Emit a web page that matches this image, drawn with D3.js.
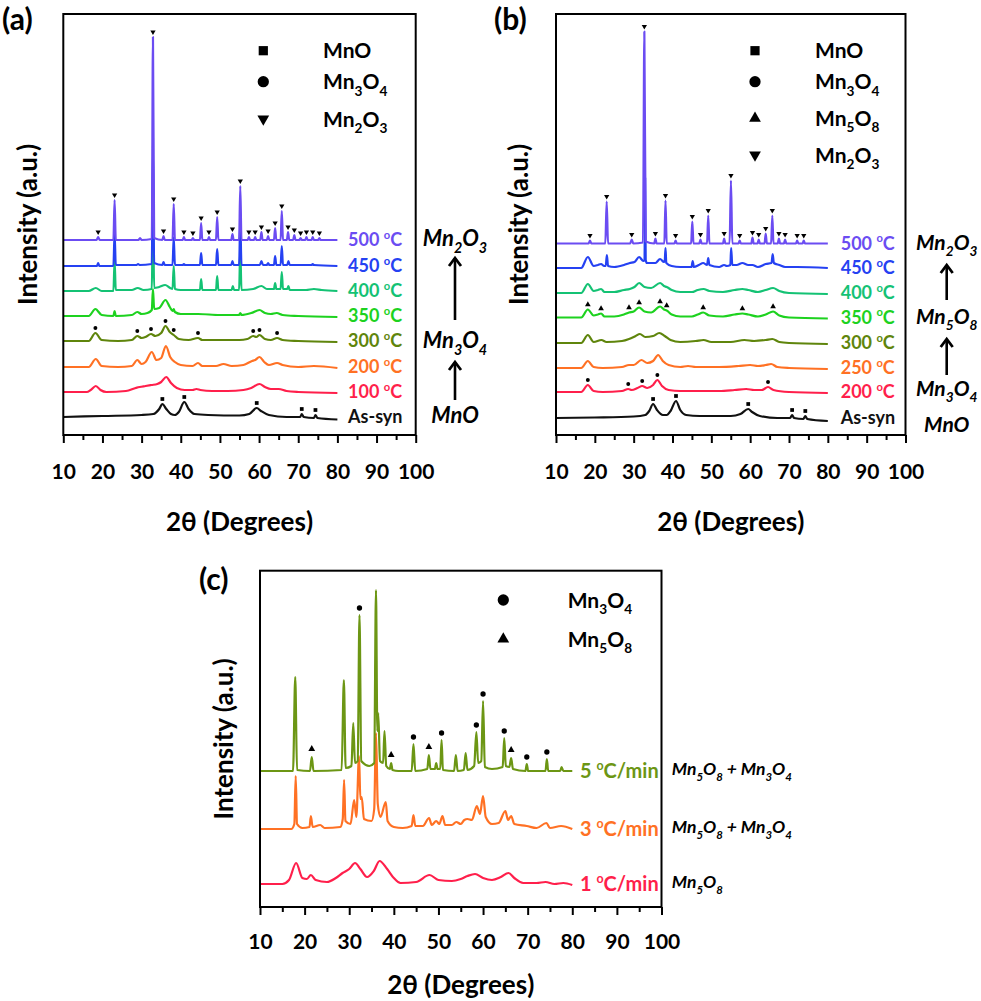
<!DOCTYPE html>
<html><head><meta charset="utf-8">
<script src="https://cdn.jsdelivr.net/npm/d3@7"></script>
<style>
body{margin:0;background:#fff}
text{font-family:Lato,"Open Sans","Liberation Sans",sans-serif;font-weight:bold}
</style></head><body>
<svg id="c" width="981" height="1001"></svg>
<script>
// ---------- shared ----------
const xTicks = [10,20,30,40,50,60,70,80,90,100];
const xMinor = [15,25,35,45,55,65,75,85,95];

// ---------- panel (a) ----------
const labelsA = ["As-syn","100 °C","200 °C","300 °C","350 °C","400 °C","450 °C","500 °C"];
const offsetsA = [18,43,68,94,119,144,169,195];
const asynA = [[10,0],[20,1],[30,2],[33,3],[34.5,8],[35.3,13],[36.3,8],[37.5,3],[38.5,2],[39.5,5],[40.9,15],[42,8],[43.5,3],[47,2],[55,1.5],[57.5,3],[59.4,9],[60.5,6],[62.5,2],[67,0],[70.5,0],[70.9,3],[71.4,0],[74,-1],[74.4,2],[74.9,-1],[80,-2.5]];
const t100A = [[10,0],[16,0],[17,2],[18.3,6],[19.5,2],[21,0],[26,1],[28.5,4],[29.5,5],[31,6],[32.5,7],[34,8],[35,10],[36.3,15],[37.5,9],[39,4],[41,2],[43,2],[44,3],[45,2],[48,1],[52,1],[56,2],[58,4],[60.1,8],[61.5,5],[63,3],[65,3],[67,1],[70,0],[80,-1]];
const t200A = [[10,0],[16.5,0],[18.3,8],[19.8,1],[24,0],[27.5,1],[28.9,7],[30,3],[31,5],[32.6,15],[33.8,7],[35,9],[36.2,21],[37.3,10],[38.5,5],[40,2],[43,1],[44.4,4],[45.5,1],[49,1],[50.9,3],[53,1],[56,2],[58.2,6],[59,7],[60.1,10],[61.3,5],[62.5,2],[64.6,4],[66,2],[70,0],[74,1],[80,-1]];
const t300A = [[10,0],[16.5,0],[18.2,8],[19.8,1],[24,0],[27.5,1],[28.9,5],[30,3],[31,4],[32.4,7],[33.5,5],[35,8],[36.1,15],[37.2,9],[38.2,6],[39.5,2],[42,1],[44.4,3],[45.5,1],[50,1],[55,1],[57,2],[58.5,5],[59.3,4],[60.1,6],[61.5,2],[63,1],[64.6,3],[66,1],[70,0],[80,-1]];
const t350A = [[10,0],[16.5,0],[18.2,7],[19.8,1],[22.8,0],[23.1,5],[23.4,0],[27.5,1],[28.9,4],[30,2],[31.5,3],[32.6,6],[32.9,27],[33.2,7],[34.5,8],[36.1,16],[37.2,9],[37.9,5],[38.2,7],[38.5,4],[40,2],[44.4,2],[50,1],[54.9,1],[55.2,3],[55.5,1],[58,3],[60.1,6],[61.5,3],[63,2],[64.5,3],[66,1],[70,0],[80,-1]];
const t400A = [[10,0],[16.5,0],[18.3,3],[19.8,0],[22.8,0],[23.1,30],[23.4,1],[27.5,1],[29,3],[30.5,1],[32.6,2],[32.9,80],[33.2,3],[34.5,4],[36,6],[37.3,3],[37.9,2],[38.2,25],[38.5,2],[40,1],[44.9,1],[45.2,12],[45.5,1],[49,1],[49.3,15],[49.6,1],[53,1],[53.3,5],[53.6,1],[54.9,1],[55.2,42],[55.5,1],[58.5,2],[60.6,5],[62,2],[63.8,2],[64.1,8],[64.4,2],[65.5,2],[65.8,19],[66.1,2],[67.2,2],[67.5,5],[67.8,1],[72,1],[74,2],[76,1],[80,0]];
const t450A = [[10,0],[18.6,0],[18.9,3],[19.2,0],[22.8,0],[23.1,33],[23.4,1],[28.7,1],[29.1,2],[29.5,1],[32.6,2],[32.9,120],[33.2,3],[35.3,1],[35.6,4],[35.9,1],[37.9,1],[38.2,29],[38.5,1],[40.5,1],[40.8,2],[41.1,1],[44.9,1],[45.2,13],[45.5,1],[49,1],[49.3,17],[49.6,1],[52.9,1],[53.2,5],[53.5,1],[54.9,1],[55.2,45],[55.5,1],[60.2,1],[60.6,5],[61,1],[62,1],[62.3,3],[62.6,1],[63.8,1],[64.1,10],[64.4,1],[65.5,1],[65.8,20],[66.1,1],[67.2,1],[67.5,5],[67.8,1],[73.4,1],[73.7,2],[74,1],[80,0]];
const t500A = [[10,0],[18.5,0],[18.9,3],[19.3,0],[22.8,0],[23.1,40],[23.4,0],[29.2,0],[29.6,2],[30,0],[32.6,1],[32.9,203],[33.2,2],[35.3,0],[35.6,4],[35.9,0],[37.9,0],[38.2,36],[38.5,0],[40.5,0],[40.8,3],[41.1,0],[42.8,0],[43.1,2],[43.4,0],[44.9,0],[45.2,17],[45.5,0],[46.9,0],[47.2,3],[47.5,0],[49,0],[49.3,23],[49.6,0],[52.9,0],[53.2,6],[53.5,0],[54.9,0],[55.2,54],[55.5,0],[57.1,0],[57.4,3],[57.7,0],[58.7,0],[59,3],[59.3,0],[60.3,0],[60.6,8],[60.9,0],[62,0],[62.3,4],[62.6,0],[63.8,0],[64.1,12],[64.4,0],[65.5,0],[65.8,29],[66.1,0],[67.1,0],[67.4,8],[67.7,0],[68.7,0],[69,5],[69.3,0],[70.3,0],[70.6,2],[70.9,0],[71.8,0],[72.1,3],[72.4,0],[73.4,0],[73.7,3],[74,0],[75.1,0],[75.4,2],[75.7,0],[80,0]];
const markMnO_A = [35.3,40.9,59.4,70.9,74.4];
const markMn3O4_A = [18.2,28.9,32.4,36.1,38.2,44.4,58.5,60.1,64.6];
const markMn2O3_A = [18.9,23.1,32.9,35.6,38.2,40.8,43.1,45.2,47.2,49.3,53.2,55.2,57.4,59,60.6,62.3,64.1,65.8,67.4,69,70.6,72.1,73.7,75.4];
const legendA = ["MnO","Mn3O4","Mn2O3"];
const phasesA = ["Mn2O3","Mn3O4","MnO"];

// ---------- panel (b) ----------
const labelsB = ["As-syn","200 °C","250 °C","300 °C","350 °C","400 °C","450 °C","500 °C"];
const offsetsB = [17,43,67,92,117.5,142,167,191.5];
const asynB = [[10,0],[20,0.5],[30,1.5],[33,3],[34,7],[35,14],[36,8],[37.5,3],[38.5,3],[39.5,7],[40.9,17],[42,8],[43.5,3],[47,2],[55,2],[57.5,4],[59.5,9],[60.5,6],[62.5,2],[67,0],[70.3,0],[70.8,3],[71.3,0],[73.7,-1],[74.2,2],[74.7,-1],[80,-3]];
const t200B = [[10,0],[16.5,0],[18.2,7],[19.7,1],[22,0],[27,1],[28.6,3],[29.5,2],[31,4],[32.2,6],[33.5,4],[35,7],[36.1,12],[37.3,6],[39,2],[42,1],[46,1],[52,1],[56,2],[59,3],[61,2],[63,2],[64.6,5],[66,2],[70,0],[80,-1]];
const t250B = [[10,0],[16.5,0],[18.2,7],[19.7,1],[22,0],[27,1],[28.8,3],[30,3],[32,8],[33.5,5],[35,7],[36.3,13],[37.5,7],[39,3],[42,1],[44,2],[46,1],[52,1],[57,2],[60,3],[62,2],[64,3],[65.4,4],[67,1],[70,0],[80,-1]];
const t300B = [[10,0],[16.5,0],[18.2,8],[19.7,1],[21.7,3],[23,1],[27,2],[28.8,4],[30.5,7],[31.6,9],[33,6],[35,7],[36.6,10],[38,7],[39.5,3],[42,1],[46,2],[48,3],[50,1],[55,1],[58.5,3],[61,2],[64,3],[65.7,4],[67.5,1],[70,0],[80,-1]];
const t350B = [[10,0],[16.5,0],[18.2,8],[19.7,2],[20.8,3],[21.6,4],[22.5,1],[25,1],[27.5,3],[28.8,5],[30,6],[31.4,10],[32.8,6],[34.5,5],[36.8,11],[37.8,8],[38.5,7],[39.8,3],[42,1],[45,1],[46.5,3],[47.9,5],[49.5,2],[53,1],[56,3],[58,4],[59.5,3],[62,1],[64,3],[65.9,6],[67.5,2],[70,0],[80,-1]];
const t400B = [[10,0],[16.5,0],[18.2,9],[19.7,2],[20.8,3],[21.6,4],[22.5,1],[25,1],[27.5,3],[29,4],[30.2,6],[31.4,10],[32.8,6],[34.5,5],[36.8,10],[37.8,7],[38.5,6],[39.8,3],[42,1],[45,1],[46.5,3],[48,4],[49.5,2],[53,1],[56,3],[58,4],[59.5,3],[62,1],[64,3],[65.9,5],[67.5,2],[70,0],[80,-1]];
const t450B = [[10,0],[16.5,0],[18.2,11],[19.7,2],[20.8,3],[21.6,4],[22.4,2],[22.8,2],[23.1,13],[23.4,2],[25,1],[27.5,3],[29,5],[30.2,6],[31.4,11],[32.5,7],[32.8,8],[32.95,90],[33.1,8],[33.4,5],[35.6,5],[36.8,9],[37.8,6],[38,7],[38.2,20],[38.4,5],[39.8,2],[42,1],[44.9,1],[45.2,7],[45.5,1],[46.8,3],[47.9,5],[48.9,3],[49.2,10],[49.5,3],[52,1],[53.3,3],[54,2],[54.9,3],[55.1,20],[55.4,3],[56.5,3],[58,5],[59.5,3],[60.6,3],[62,1],[64,4],[65.5,5],[65.8,14],[66.1,5],[67.5,3],[69,1],[72,1],[80,0]];
const t500B = [[10,0],[18.4,0],[18.75,3],[19.1,0],[22.7,0],[23.05,42],[23.4,0],[29.1,0],[29.5,4],[29.9,0],[32.4,1],[32.75,212],[33.1,2],[35.3,0],[35.6,5],[35.9,0],[37.9,0],[38.2,43],[38.5,0],[40.5,0],[40.8,3],[41.1,0],[44.8,0],[45.1,22],[45.4,0],[46.9,0],[47.2,4],[47.5,0],[48.9,0],[49.2,28],[49.5,0],[53,0],[53.3,5],[53.6,0],[54.7,0],[55.05,63],[55.4,0],[57,0],[57.3,3],[57.6,0],[60.3,0],[60.6,6],[60.9,0],[61.9,0],[62.2,4],[62.5,0],[63.7,0],[64,10],[64.3,0],[65.4,0],[65.7,28],[66,0],[67.1,0],[67.4,5],[67.7,0],[68.7,0],[69,4],[69.3,0],[71.8,0],[72.1,3],[72.4,0],[73.5,0],[73.8,3],[74.1,0],[80,0]];
const markMnO_B = [35,40.9,59.5,70.8,74.2];
const markMn3O4_B = [18.2,28.6,32.2,36.1,64.6];
const markMn5O8_B = [18.2,21.6,28.8,31.4,36.8,38.5,47.9,58,65.9];
const markMn2O3_B = [18.75,23.05,29.5,32.75,35.6,38.2,40.8,45.1,47.2,49.2,53.3,55.05,57.3,60.6,62.2,64,65.7,67.4,69,72.1,73.8];
const legendB = ["MnO","Mn3O4","Mn5O8","Mn2O3"];
const phasesB = ["Mn2O3","Mn5O8","Mn3O4","MnO"];

// ---------- panel (c) ----------
const labelsC = ["1 °C/min","3 °C/min","5 °C/min"];
const phaseLabelsC = ["Mn5O8","Mn5O8 + Mn3O4","Mn5O8 + Mn3O4"];
const offsetsC = [23,78,136];
const r1C = [[10,0],[15,0],[16.5,4],[18.1,21],[19.5,6],[20.5,5],[21.4,9],[22.5,4],[25,2],[27,6],[28.5,11],[30,15],[31.3,21],[32.5,15],[34,7],[35.5,13],[36.8,23],[38.5,15],[40,6],[41.5,1],[45,2],[48,9],[50,4],[53,3],[55,5],[56.5,8],[58.2,10],[60,6],[62,4],[64,7],[65.7,11],[67,6],[69,1],[72,1],[74,2],[76,0],[78,1],[80,-1]];
const r3C = [[10,0],[17,0],[17.7,5],[18,53],[18.3,5],[19.5,1],[21.1,2],[21.4,13],[21.8,2],[23.5,4],[24.5,1],[28,2],[28.55,10],[28.85,49],[29.15,8],[30.3,5],[31.1,29],[31.6,12],[32.2,73],[32.5,30],[32.8,32],[33.3,10],[35,8],[35.6,20],[36,96],[36.4,25],[37,12],[38.2,27],[38.6,8],[40,2],[42,1],[44,3],[44.4,14],[44.8,3],[46.5,3],[47.9,11],[48.5,4],[49.5,8],[50.2,5],[50.9,13],[51.5,4],[53,4],[54,7],[55,5],[55.8,9],[56.5,10],[57.5,9],[58.6,23],[59.3,15],[60,33],[60.6,12],[62,5],[63.5,6],[65,18],[65.6,9],[66.3,13],[67,5],[69.8,3],[72,1],[74.2,6],[75,1],[77.5,3],[80,0]];
const r5C = [[10,0],[17.4,0],[17.9,94],[18.3,1],[21.2,0],[21.6,14],[22,0],[28.3,1],[28.8,91],[29.2,3],[30.5,5],[30.9,48],[31.3,8],[31.9,10],[32.3,156],[32.7,10],[34.5,5],[35.6,8],[36,181],[36.3,40],[36.5,58],[36.9,10],[37.6,8],[37.9,40],[38.3,5],[39.1,2],[39.4,8],[39.7,1],[41,0],[44,0],[44.4,27],[44.8,0],[47.5,2],[47.85,16],[48.2,2],[49.2,2],[49.5,8],[49.8,2],[50.4,2],[50.7,31],[51,1],[53.5,0],[53.9,16],[54.3,0],[55.7,1],[56.1,18],[56.5,1],[58,5],[58.5,39],[58.9,8],[59.6,10],[60,70],[60.4,4],[62,2],[64.4,4],[64.75,33],[65.1,5],[65.9,4],[66.3,13],[66.7,2],[69.5,0],[69.8,7],[70.1,0],[74,0],[74.3,12],[74.6,0],[77.3,0],[77.6,4],[78,0],[80,0]];
const markMn3O4_C = [32.3,44.4,50.7,58.5,60,64.75,69.8,74.3];
const markMn5O8_C = [21.6,39.4,47.85,66.3];
const legendC = ["Mn3O4","Mn5O8"];

// ---------- styles ----------
const BLACK="#111", RED="#ff1f4b", ORANGE="#ff7124", OLIVE="#5f850c", GREEN="#1dd21f", TEAL="#14c274", BLUE="#2541f2", PURPLE="#6b4cf2", OLIVE_C="#6c9614";

const svg = d3.select("#c");

function symType(t){ return t==="square"?d3.symbolSquare: t==="circle"?d3.symbolCircle: d3.symbolTriangle; }

function chemText(t, str, size){
  const runs = str.match(/\d+|[^\d]+/g);
  let shifted = false;
  runs.forEach(r=>{
    const isSub = /^\d+$/.test(r);
    const ts = t.append("tspan").text(r);
    if(isSub && !shifted){ ts.attr("dy", size*0.3).attr("font-size", size*0.65); shifted = true; }
    else if(isSub){ ts.attr("font-size", size*0.65); }
    else if(shifted){ ts.attr("dy", -size*0.3); shifted = false; }
  });
}
function tempText(t, str, size){
  const parts = str.split("°");
  t.append("tspan").text(parts[0]);
  if(parts.length>1){
    t.append("tspan").text("o").attr("font-size", size*0.62).attr("dy", -size*0.42);
    t.append("tspan").text(parts[1]).attr("dy", size*0.42);
  }
}

function panel(cfg){
  const g = svg.append("g");
  const x = d3.scaleLinear().domain([10,100]).range([cfg.left, cfg.right]);
  const y = d3.scaleLinear().domain([0, cfg.bottom-cfg.top]).range([cfg.bottom, cfg.top]);
  const line = off => d3.line().x(d=>x(d[0])).y(d=>y(d[1]+off)).curve(d3.curveMonotoneX);

  cfg.series.forEach((pts,i)=>{
    g.append("path").datum(pts).attr("fill","none").attr("stroke",cfg.colors[i])
      .attr("stroke-width",2.2).attr("stroke-linejoin","round").attr("d", line(cfg.offsets[i]));
    const t = g.append("text").attr("x", cfg.labelX).attr("y", y(cfg.offsets[i]) + cfg.labelSize*0.36)
      .attr("fill", cfg.colors[i]).attr("font-size", cfg.labelSize);
    tempText(t, cfg.labels[i], cfg.labelSize);
  });

  cfg.markers.forEach(m=>{
    const pts = cfg.series[m.s], off = cfg.offsets[m.s];
    m.at.forEach(p=>{
      const near = pts.filter(d=>Math.abs(d[0]-p)<=0.45);
      const top = d3.max(near, d=>d[1]);
      g.append("path").attr("d", d3.symbol(symType(m.type), cfg.msize[m.type])())
        .attr("transform", `translate(${x(p)},${y(top+off)-cfg.gap[m.type]})` + (m.type==="down"?" rotate(180)":""))
        .attr("fill","#000");
    });
  });

  g.append("rect").attr("x",cfg.left).attr("y",cfg.top).attr("width",cfg.right-cfg.left).attr("height",cfg.bottom-cfg.top)
    .attr("fill","none").attr("stroke","#000").attr("stroke-width",2);
  const ax = g.append("g").attr("transform",`translate(0,${cfg.bottom})`)
    .call(d3.axisBottom(x).tickValues(xTicks).tickSize(8).tickPadding(cfg.pad).tickFormat(d3.format("d")));
  ax.select(".domain").remove();
  ax.selectAll("line").attr("stroke","#000").attr("stroke-width",2);
  ax.selectAll("text").attr("font-size",21).attr("fill","#000").style("font-family","Lato,'Open Sans',sans-serif").style("font-weight","bold");
  const mx = g.append("g").attr("transform",`translate(0,${cfg.bottom})`)
    .call(d3.axisBottom(x).tickValues(xMinor).tickSize(5).tickFormat(""));
  mx.select(".domain").remove();
  mx.selectAll("line").attr("stroke","#000").attr("stroke-width",2);

  g.append("text").attr("x",(cfg.left+cfg.right)/2).attr("y",cfg.xTitleY).attr("text-anchor","middle")
    .attr("font-size",26).text("2θ (Degrees)");
  g.append("text").attr("transform",`translate(${cfg.yTitleX},${(cfg.top+cfg.bottom)/2}) rotate(-90)`)
    .attr("text-anchor","middle").attr("dy","0.35em").attr("font-size",26).text("Intensity (a.u.)");
  g.append("text").attr("x",cfg.tagX).attr("y",cfg.tagY).attr("font-size",30).text(cfg.tag);

  cfg.legend.forEach((name,i)=>{
    const ly = cfg.legendY[i];
    const tp = cfg.legendTypes[i];
    g.append("path").attr("d", d3.symbol(symType(tp), cfg.legendSize[tp])())
      .attr("transform",`translate(${cfg.legendMX},${ly})`+(tp==="down"?" rotate(180)":"")).attr("fill","#000");
    const t = g.append("text").attr("x",cfg.legendTX).attr("y",ly+7.5).attr("font-size",21);
    chemText(t, name, 21);
  });
  return {g,x,y};
}

const msSmall = {square:14, circle:12, down:12, up:14};
const gapSmall = {square:5, circle:5, down:5, up:5};
const legSize = {square:85, circle:100, down:60, up:60};

const A = panel({
  left:63.3, right:415.7, top:14, bottom:435, pad:21, xTitleY:531, yTitleX:28, tag:"(a)", tagX:2, tagY:30,
  series:[asynA,t100A,t200A,t300A,t350A,t400A,t450A,t500A], offsets:offsetsA, labels:labelsA,
  colors:[BLACK,RED,ORANGE,OLIVE,GREEN,TEAL,BLUE,PURPLE], labelX:348, labelSize:18,
  markers:[{s:0,type:"square",at:markMnO_A},{s:3,type:"circle",at:markMn3O4_A},{s:7,type:"down",at:markMn2O3_A}],
  msize:msSmall, gap:gapSmall,
  legend:legendA, legendTypes:["square","circle","down"], legendY:[50.7,81.7,119], legendMX:263.3, legendTX:323, legendSize:legSize
});
const B = panel({
  left:556, right:905.5, top:14, bottom:435, pad:21, xTitleY:531, yTitleX:519, tag:"(b)", tagX:494, tagY:30,
  series:[asynB,t200B,t250B,t300B,t350B,t400B,t450B,t500B], offsets:offsetsB, labels:labelsB,
  colors:[BLACK,RED,ORANGE,OLIVE,GREEN,TEAL,BLUE,PURPLE], labelX:840.7, labelSize:18,
  markers:[{s:0,type:"square",at:markMnO_B},{s:1,type:"circle",at:markMn3O4_B},{s:4,type:"up",at:markMn5O8_B},{s:7,type:"down",at:markMn2O3_B}],
  msize:msSmall, gap:gapSmall,
  legend:legendB, legendTypes:["square","circle","up","down"], legendY:[50.7,81.7,118.3,155], legendMX:755, legendTX:815, legendSize:legSize
});
const C = panel({
  left:260, right:661.5, top:570.7, bottom:907, pad:19, xTitleY:994, yTitleX:224, tag:"(c)", tagX:199, tagY:590,
  series:[r1C,r3C,r5C], offsets:offsetsC, labels:labelsC,
  colors:[RED,ORANGE,OLIVE_C], labelX:580, labelSize:20,
  markers:[{s:2,type:"circle",at:markMn3O4_C},{s:2,type:"up",at:markMn5O8_C}],
  msize:{circle:22, up:20}, gap:{circle:7, up:8},
  legend:legendC, legendTypes:["circle","up"], legendY:[600,639], legendMX:503.3, legendTX:567.7, legendSize:legSize
});

function arrow(g, xc, y1, y2){
  g.append("line").attr("x1",xc).attr("x2",xc).attr("y1",y1).attr("y2",y2).attr("stroke","#000").attr("stroke-width",2.6);
  g.append("path").attr("d",`M${xc-6},${y2+8}L${xc},${y2}L${xc+6},${y2+8}`).attr("fill","none").attr("stroke","#000").attr("stroke-width",2.8);
}
function phase(g, str, xc, yc, size, anchor){
  const t = g.append("text").attr("x",xc).attr("y",yc+size*0.36).attr("text-anchor",anchor||"middle")
    .attr("font-size",size).attr("font-style","italic");
  chemText(t, str, size);
}
phase(A.g, phasesA[0], 455, 238, 22);
arrow(A.g, 455, 320, 258);
phase(A.g, phasesA[1], 455, 340, 22);
arrow(A.g, 455, 400, 362);
phase(A.g, phasesA[2], 455, 415, 22);
phase(B.g, phasesB[0], 946.7, 242, 21);
arrow(B.g, 946.7, 300, 265);
phase(B.g, phasesB[1], 946.7, 316, 21);
arrow(B.g, 946.7, 375, 339);
phase(B.g, phasesB[2], 946.7, 388.5, 21);
phase(B.g, phasesB[3], 946.7, 424, 21);
phaseLabelsC.forEach((s,i)=>{
  phase(C.g, s, 671.7, C.y(offsetsC[i]) - 2, 17.5, "start");
});
</script>
</body></html>
